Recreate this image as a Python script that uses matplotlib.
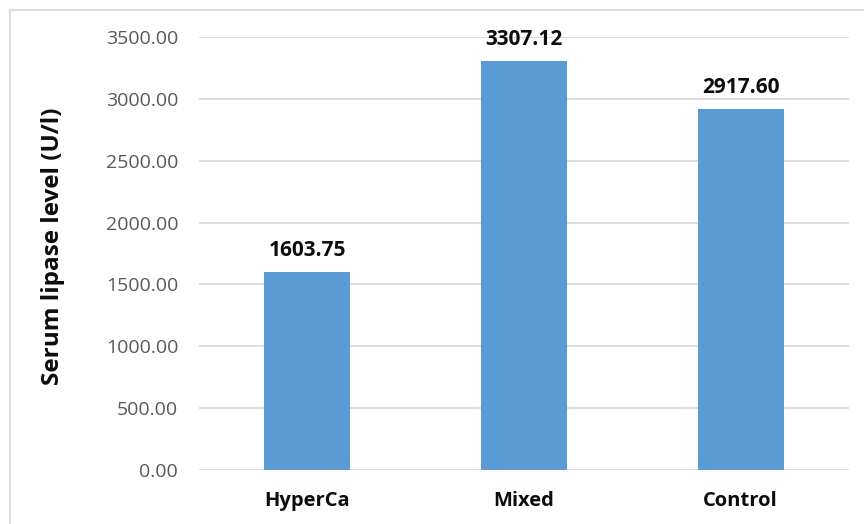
import matplotlib.pyplot as plt
from matplotlib.patches import Rectangle

groups = ["HyperCa", "Mixed", "Control"]
lipase = [1603.75, 3307.12, 2917.60]
yticks = [0, 500, 1000, 1500, 2000, 2500, 3000, 3500]

plt.rcParams["font.family"] = ["Open Sans", "DejaVu Sans"]

fig = plt.figure(figsize=(8.64, 5.24), dpi=100)
ax = fig.add_axes([199 / 864, 1 - 470 / 524, 650 / 864, 433 / 524])

x = range(len(groups))
ax.bar(x, lipase, width=0.397, color="#5B9BD5", zorder=3)
for xi, v in zip(x, lipase):
    ax.annotate(f"{v:.2f}", (xi, v), xytext=(0, 11.5), textcoords="offset points",
                ha="center", va="baseline", fontsize=15, fontweight="bold",
                color="#0d0d0d")

ax.set_xlim(-0.5, 2.5)
ax.set_ylim(0, 3500)
ax.set_yticks(yticks)
ax.set_yticklabels([f"{t:.2f}" for t in yticks], fontsize=14, color="#595959")
ax.set_xticks(list(x))
ax.set_xticklabels(groups, fontsize=14.5, fontweight="bold", color="#0d0d0d")
ax.tick_params(axis="both", length=0)
ax.tick_params(axis="y", pad=15)
ax.tick_params(axis="x", pad=15)
ax.grid(axis="y", color="#d9d9d9", lw=1.3, zorder=0)
for s in ax.spines.values():
    s.set_visible(False)

fig.text(53 / 864, 1 - 246 / 524, "Serum lipase level (U/l)", rotation=90,
         ha="center", va="center", fontsize=17.5, fontweight="bold", color="#0d0d0d")

# chart frame, cut off at the right and bottom edges
fig.patches.append(Rectangle((10 / 864, -0.1), 1.0, 1.1 - 10 / 524,
                             transform=fig.transFigure, fill=False,
                             edgecolor="#d9d9d9", lw=1.3))

fig.savefig("out.png", dpi=100)
